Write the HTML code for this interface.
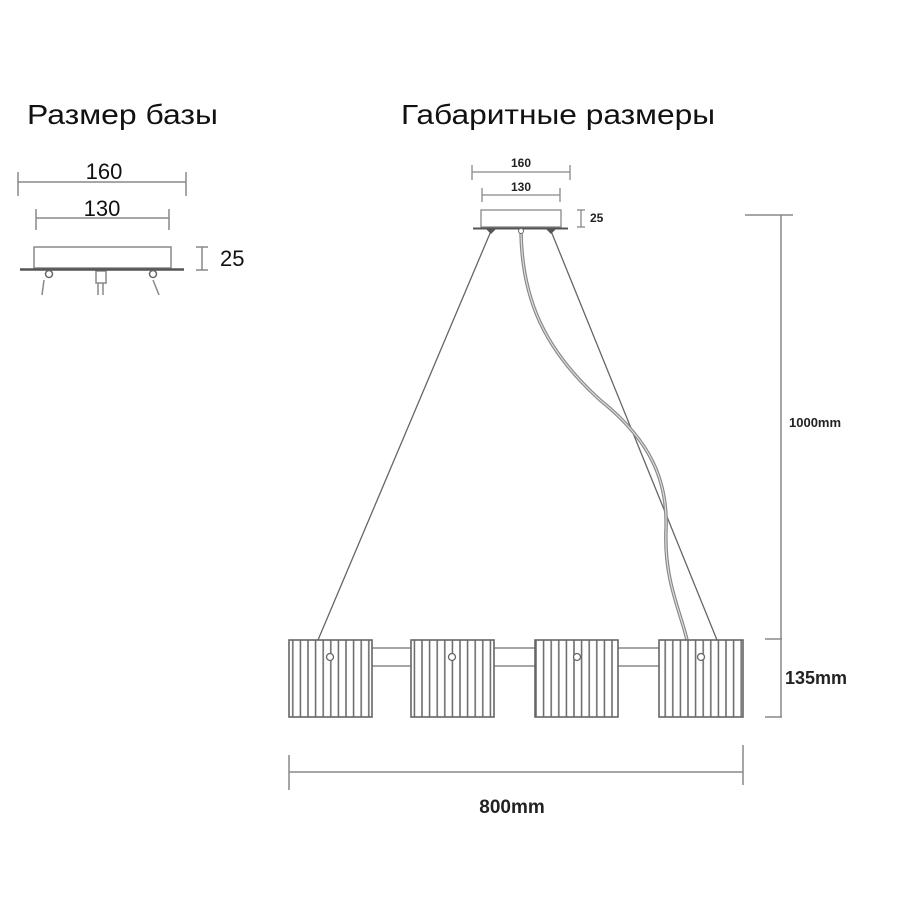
<!DOCTYPE html>
<html><head><meta charset="utf-8"><style>
html,body{margin:0;padding:0;background:#fff;}
svg{display:block;font-family:"Liberation Sans",Arial,sans-serif;}
</style></head><body>
<svg width="900" height="900" viewBox="0 0 900 900" xmlns="http://www.w3.org/2000/svg">
<defs>
<pattern id="st" x="289" y="0" width="7.6" height="10" patternUnits="userSpaceOnUse">
<line x1="3.8" y1="0" x2="3.8" y2="10" stroke="#666" stroke-width="1.5"/>
</pattern>
</defs>
<rect width="900" height="900" fill="#fff"/>
<text x="27" y="124" font-size="28" fill="#111" textLength="191" lengthAdjust="spacingAndGlyphs">Размер базы</text>
<text x="401" y="124" font-size="28" fill="#111" textLength="314" lengthAdjust="spacingAndGlyphs">Габаритные размеры</text>

<!-- small base -->
<g stroke="#888" stroke-width="1.5" fill="none">
<line x1="18" y1="182" x2="186" y2="182"/><line x1="18" y1="172" x2="18" y2="196"/><line x1="186" y1="172" x2="186" y2="196"/>
<line x1="36" y1="218" x2="169" y2="218"/><line x1="36" y1="209" x2="36" y2="230"/><line x1="169" y1="209" x2="169" y2="230"/>
<rect x="34" y="247" width="137" height="21"/>
<line x1="196" y1="247" x2="208" y2="247"/><line x1="196" y1="270" x2="208" y2="270"/><line x1="202" y1="247" x2="202" y2="270"/>
<line x1="44" y1="280" x2="42" y2="295"/><line x1="153" y1="280" x2="159" y2="295"/>
<rect x="96" y="271" width="10" height="12"/><line x1="98" y1="283" x2="98" y2="295"/><line x1="103" y1="283" x2="103" y2="295"/>
</g>
<line x1="20" y1="269.5" x2="184" y2="269.5" stroke="#555" stroke-width="2.5"/>
<circle cx="49" cy="274" r="3.5" fill="#fff" stroke="#666" stroke-width="1.5"/>
<circle cx="153" cy="274" r="3.5" fill="#fff" stroke="#666" stroke-width="1.5"/>
<text x="104" y="179" font-size="22" text-anchor="middle" fill="#111">160</text>
<text x="102" y="216" font-size="22" text-anchor="middle" fill="#111">130</text>
<text x="220" y="266" font-size="22" fill="#111">25</text>

<!-- big base dims -->
<g stroke="#888" stroke-width="1.3" fill="none">
<line x1="472" y1="172" x2="570" y2="172"/><line x1="472" y1="165" x2="472" y2="180"/><line x1="570" y1="165" x2="570" y2="180"/>
<line x1="482" y1="195" x2="560" y2="195"/><line x1="482" y1="188" x2="482" y2="202"/><line x1="560" y1="188" x2="560" y2="202"/>
<rect x="481" y="210" width="80" height="17"/>
<line x1="577" y1="210" x2="585" y2="210"/><line x1="577" y1="227" x2="585" y2="227"/><line x1="581" y1="210" x2="581" y2="227"/>
</g>
<line x1="473" y1="228.5" x2="568" y2="228.5" stroke="#555" stroke-width="2"/>
<text x="521" y="167" font-size="12" font-weight="bold" text-anchor="middle" fill="#222">160</text>
<text x="521" y="191" font-size="12" font-weight="bold" text-anchor="middle" fill="#222">130</text>
<text x="590" y="222" font-size="12" font-weight="bold" fill="#222">25</text>

<!-- wires -->
<line x1="491" y1="231" x2="318" y2="640" stroke="#666" stroke-width="1.3"/>
<line x1="551" y1="231" x2="717" y2="640" stroke="#666" stroke-width="1.3"/>
<path d="M521,232 C522,300 545,350 600,400 C650,440 668,480 666,530 C664,580 680,610 687,640" fill="none" stroke="#888" stroke-width="3.5"/>
<path d="M521,232 C522,300 545,350 600,400 C650,440 668,480 666,530 C664,580 680,610 687,640" fill="none" stroke="#ddd" stroke-width="1.2"/>
<circle cx="521" cy="231" r="2.5" fill="#fff" stroke="#666"/>
<path d="M486,229 L496,229 L491,234 Z" fill="#555"/>
<path d="M546,229 L556,229 L551,234 Z" fill="#555"/>

<!-- rods -->
<g stroke="#888" stroke-width="1.5">
<line x1="372" y1="648" x2="411" y2="648"/><line x1="372" y1="666" x2="411" y2="666"/>
<line x1="494" y1="648" x2="535" y2="648"/><line x1="494" y1="666" x2="535" y2="666"/>
<line x1="618" y1="648" x2="659" y2="648"/><line x1="618" y1="666" x2="659" y2="666"/>
</g>
<!-- shades -->
<g stroke="#666" stroke-width="1.6">
<rect x="289" y="640" width="83" height="77" fill="url(#st)"/>
<rect x="411" y="640" width="83" height="77" fill="url(#st)"/>
<rect x="535" y="640" width="83" height="77" fill="url(#st)"/>
<rect x="659" y="640" width="84" height="77" fill="url(#st)"/>
</g>
<g fill="#fff" stroke="#666" stroke-width="1.3">
<circle cx="330" cy="657" r="3.5"/><circle cx="452" cy="657" r="3.5"/><circle cx="577" cy="657" r="3.5"/><circle cx="701" cy="657" r="3.5"/>
</g>

<!-- right dims -->
<g stroke="#888" stroke-width="1.5">
<line x1="781" y1="215" x2="781" y2="717"/>
<line x1="745" y1="215" x2="793" y2="215"/>
<line x1="765" y1="639" x2="782" y2="639"/>
<line x1="765" y1="717" x2="782" y2="717"/>
<line x1="289" y1="772" x2="743" y2="772"/>
<line x1="289" y1="755" x2="289" y2="790"/>
<line x1="743" y1="745" x2="743" y2="785"/>
</g>
<text x="789" y="427" font-size="13" font-weight="bold" fill="#222">1000mm</text>
<text x="785" y="684" font-size="18" font-weight="bold" fill="#222">135mm</text>
<text x="512" y="813" font-size="19" font-weight="bold" text-anchor="middle" fill="#222">800mm</text>
</svg>
</body></html>
